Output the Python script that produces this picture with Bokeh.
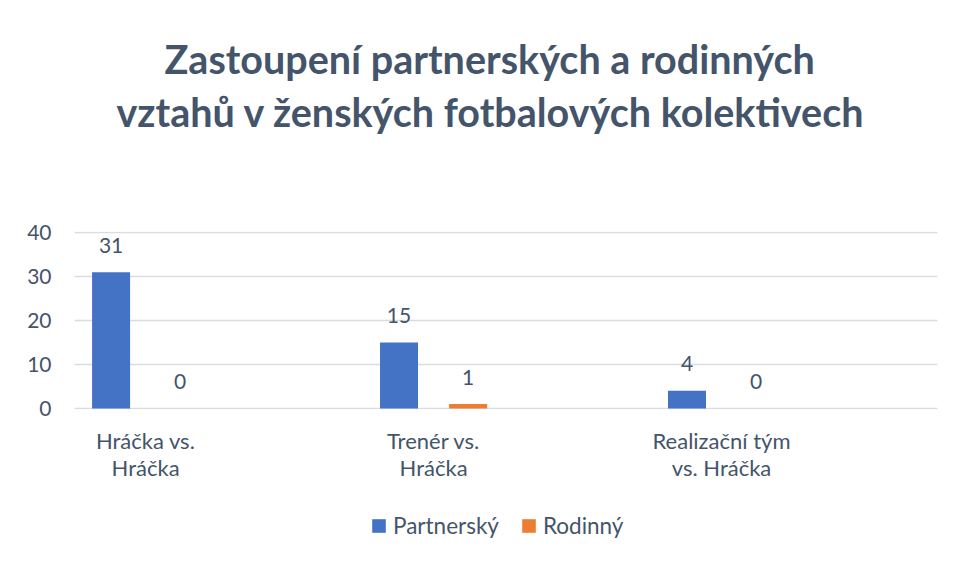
from bokeh.plotting import figure
from bokeh.layouts import column
from bokeh.models import Title, Legend, LegendItem, ColumnDataSource, FixedTicker, Range1d
from bokeh.transform import dodge
from bokeh.embed import file_html
from bokeh.resources import INLINE
from bokeh.core.properties import value

# ---- data ----
categories = ["Hráčka vs.\nHráčka", "Trenér vs.\nHráčka", "Realizační tým\nvs. Hráčka"]
series_names = ["Partnerský", "Rodinný"]
partnersky = [31, 15, 4]
rodinny = [0, 1, 0]
y_ticks = [0, 10, 20, 30, 40]
title_lines = ["Zastoupení partnerských a rodinných",
               "vztahů v ženských fotbalových kolektivech"]

FONT = "Lato"
TXT = "#44546A"
BLUE = "#4472C4"
ORANGE = "#ED7D31"

idx = list(range(len(categories)))
src = ColumnDataSource(dict(
    x=idx, p=partnersky, r=rodinny,
    pl=[str(v) for v in partnersky], rl=[str(v) for v in rodinny]))

p = figure(width=959, height=500, output_backend="svg", toolbar_location=None,
           x_range=Range1d(-0.247, 2.75), y_range=Range1d(-0.25, 40.25), title=None,
           min_border_left=74, min_border_right=22, min_border_top=231,
           min_border_bottom=91)
p.outline_line_color = None
p.background_fill_color = "white"
p.border_fill_color = "white"

# spacer between title block and plot area
p.add_layout(Title(text=" ", text_font_size="1px", standoff=92), "above")
t2 = Title(text=title_lines[1], align="left", offset=42, standoff=4,
           text_font=FONT, text_font_size="39.5px", text_font_style="bold",
           text_color=TXT)
p.add_layout(t2, "above")
t1 = Title(text=title_lines[0], align="left", offset=90, standoff=4,
           text_font=FONT, text_font_size="39.5px", text_font_style="bold",
           text_color=TXT)
p.add_layout(t1, "above")

off = 0.12
bw = 0.132
rb = p.vbar(x=dodge("x", -off, range=p.x_range), top="p", width=bw, source=src,
            fill_color=BLUE, line_color=None)
ro = p.vbar(x=dodge("x", off, range=p.x_range), top="r", width=bw, source=src,
            fill_color=ORANGE, line_color=None)

for col, lab, o in (("p", "pl", -off), ("r", "rl", off)):
    p.text(x=dodge("x", o, range=p.x_range), y=col, text=lab, source=src,
           text_align="center", text_baseline="alphabetic", y_offset=-27,
           text_font=value(FONT), text_font_size="21px", text_color=TXT)

# axes
p.yaxis.ticker = FixedTicker(ticks=y_ticks)
p.yaxis.axis_line_color = None
p.yaxis.major_tick_line_color = None
p.yaxis.minor_tick_line_color = None
p.yaxis.major_tick_out = 0
p.yaxis.major_label_standoff = 23
p.yaxis.major_label_text_font = FONT
p.yaxis.major_label_text_font_size = "21px"
p.yaxis.major_label_text_color = TXT

p.xaxis.ticker = FixedTicker(ticks=idx)
p.xaxis.major_label_overrides = {i: c for i, c in zip(idx, categories)}
p.xaxis.axis_line_color = None
p.xaxis.major_tick_line_color = None
p.xaxis.minor_tick_line_color = None
p.xaxis.major_tick_out = 0
p.xaxis.major_label_standoff = 17
p.xaxis.major_label_text_font = FONT
p.xaxis.major_label_text_font_size = "22px"
p.xaxis.major_label_text_line_height = 1.0
p.xaxis.major_label_text_color = TXT

p.xgrid.visible = False
p.ygrid.grid_line_color = "#D9DCE1"
p.ygrid.grid_line_width = 1.5

# legend in a strip below the chart (swatch renderers have zero height)
lg = figure(width=959, height=67, output_backend="svg", toolbar_location=None,
            x_range=Range1d(0, 1), y_range=Range1d(0, 1), min_border=0)
lg.axis.visible = False
lg.grid.visible = False
lg.outline_line_color = None
lb = lg.vbar(x=[0.5], top=[0], width=0.01, fill_color=BLUE, line_color=None)
lo = lg.vbar(x=[0.5], top=[0], width=0.01, fill_color=ORANGE, line_color=None)
legend = Legend(items=[LegendItem(label=series_names[0], renderers=[lb]),
                       LegendItem(label=series_names[1], renderers=[lo])],
                orientation="horizontal", location=(296, 28),
                label_text_font=FONT, label_text_font_size="22.5px",
                label_text_color=TXT, glyph_width=17, glyph_height=17,
                label_standoff=6, spacing=21, margin=0, padding=0,
                border_line_color=None, background_fill_alpha=0)
lg.add_layout(legend, "center")

open("out.html", "w").write(file_html(column(p, lg, spacing=0), INLINE))
